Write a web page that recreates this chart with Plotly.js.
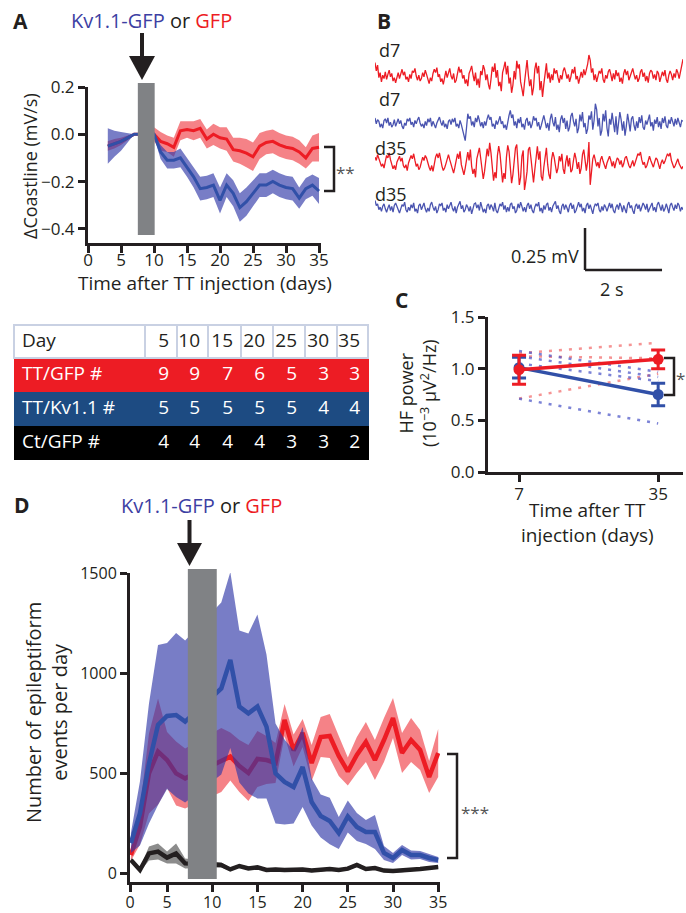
<!DOCTYPE html>
<html><head><meta charset="utf-8">
<script src="https://cdn.plot.ly/plotly-3.0.1.min.js"></script>
<style>body{margin:0;background:#fff}#chart{width:686px;height:913px}</style>
</head><body><div id="chart"></div>
<script>
const W = 686, H = 913;
const px = x => x / W, py = y => 1 - y / H;

// ---------- Panel A data ----------
const daysA = [3,4,5,6,7,10,11,12,13,14,15,16,17,18,19,20,21,22,23,24,25,26,27,28,29,30,31,32,33,34,35];
const gfpA = [-0.05,-0.04,-0.03,-0.015,0.0,0.0,-0.03,-0.04,-0.055,0.015,0.02,0.015,0.025,-0.02,0.0,-0.015,-0.02,-0.065,-0.07,-0.08,-0.095,-0.05,-0.035,-0.03,-0.045,-0.055,-0.06,-0.075,-0.1,-0.06,-0.055];
const gfpSemA = [0.02,0.02,0.015,0.01,0.0,0.03,0.04,0.035,0.04,0.04,0.035,0.04,0.04,0.04,0.045,0.045,0.05,0.05,0.055,0.06,0.06,0.055,0.05,0.05,0.05,0.05,0.05,0.05,0.045,0.055,0.06];
const kvA = [-0.05,-0.04,-0.03,-0.015,0.0,0.0,-0.075,-0.11,-0.11,-0.1,-0.14,-0.18,-0.23,-0.225,-0.215,-0.28,-0.215,-0.25,-0.31,-0.285,-0.25,-0.215,-0.215,-0.2,-0.215,-0.225,-0.23,-0.27,-0.23,-0.215,-0.24];
const kvSemA = [0.075,0.055,0.04,0.02,0.0,0.01,0.03,0.035,0.035,0.04,0.04,0.045,0.05,0.05,0.05,0.055,0.05,0.055,0.06,0.06,0.055,0.05,0.05,0.05,0.05,0.05,0.05,0.045,0.045,0.045,0.055];
const treatA = [7.55, 10.1];

// ---------- Panel B data (EEG samples, µV) ----------
const traceDuration = 8; // s
const eegGfpD7 = [80,30,65,-10,20,-35,5,-15,25,-20,10,35,-5,15,-30,-10,-40,0,20,-15,
 15,40,5,25,-20,-5,-35,10,-15,30,20,45,0,-25,5,-30,-15,20,-5,35,
 10,-25,-45,-10,-30,15,40,20,50,-5,10,-35,-15,-50,5,30,-10,25,45,0,
 -20,15,-40,-25,10,55,20,40,-15,5,-45,-20,-60,15,35,60,10,-30,20,-55,
 -15,-70,30,5,65,40,-25,10,-50,-80,-20,55,25,75,-10,35,-60,-35,-90,20,
 50,85,10,60,-45,-10,-100,-55,30,-20,90,45,70,-35,-75,-120,-40,25,95,5,
 -60,-20,-115,-70,40,80,15,60,-85,-30,-125,-50,35,75,-15,20,-40,10,-25,45,
 15,35,-10,-40,5,-20,30,50,20,-15,10,-35,-5,40,15,55,-20,0,-45,-15,
 25,-10,40,5,30,70,125,95,20,45,-25,10,-35,-5,30,15,45,-20,-40,5,
 -15,25,40,10,-30,15,-20,35,0,20,-35,-10,-45,15,40,5,30,-25,-5,20,
 45,10,-20,5,-35,-15,25,40,-5,20,-30,0,-40,15,35,25,-15,10,-25,30,
 15,-35,-10,25,0,35,-20,-40,5,30,10,-25,15,-10,40,20,-15,30,65,100];
const eegKvD7 = [30,-5,20,10,-25,-5,-30,15,25,0,30,-15,5,-25,-10,20,-20,10,25,-5,
 15,-20,-35,0,-15,25,10,30,-10,5,-25,15,-5,20,35,0,-20,-5,-30,10,
 -15,25,5,30,-20,10,-10,-30,0,20,35,5,-15,15,-25,-5,-35,10,20,-10,
 25,5,30,-20,-5,-30,15,-10,-45,-90,-105,-30,55,25,40,-15,10,-25,30,5,
 45,15,-20,5,-30,10,-15,25,50,20,35,-20,-5,-35,15,-10,25,40,-5,10,
 -30,-10,-40,20,45,75,30,50,-15,10,-30,25,0,35,-25,-5,-40,15,30,-15,
 10,-30,-5,40,15,30,-20,5,-40,-15,20,45,10,-30,0,-45,25,55,5,-20,
 35,-40,-10,-55,20,45,0,30,-35,15,-50,-25,40,60,10,-20,25,-60,-30,50,
 10,65,-25,0,-65,-35,45,20,70,-40,15,115,80,-20,30,-75,-45,55,10,75,
 -30,-80,25,-10,60,15,-55,40,-70,0,65,20,-45,10,-75,-20,55,5,-50,25,
 40,-15,-45,10,-30,35,0,45,-25,-40,15,-10,30,50,-20,5,-45,20,-5,35,
 -25,10,-35,30,0,40,-15,-30,20,-5,35,10,-20,25,-10,30,5,-25,15,10];
const eegGfpD35 = [35,15,50,25,5,-20,-5,-30,10,45,30,60,20,-10,-35,-15,-40,5,25,40,
 10,30,-15,-30,-10,-45,0,20,45,25,55,15,-20,-5,-40,-25,10,35,15,45,
 30,-5,-25,-45,-15,-50,10,35,55,30,60,5,-20,-45,-30,-5,25,50,20,-10,
 -40,-60,-25,20,55,25,70,-10,-45,-70,-30,35,65,15,80,-20,-65,-35,-85,25,
 60,90,30,-40,-95,-50,10,85,40,120,60,-30,-105,-55,-90,45,100,55,-20,-115,
 -60,-95,35,105,70,-10,-120,-70,20,90,110,-40,-130,-85,40,75,-160,-110,-50,80,
 95,30,-60,-115,-40,55,100,20,70,-80,-105,-25,45,90,-10,-70,-95,20,65,35,
 -15,-60,-30,40,10,55,-35,-65,5,45,-20,30,-55,-40,15,60,25,-35,5,-65,
 -30,50,80,20,-45,10,125,-130,-55,25,50,15,-20,5,-30,20,40,10,-15,-35,
 0,25,40,15,-20,10,-30,5,30,20,-10,15,-25,-5,30,40,10,-15,-30,0,
 15,-20,10,35,55,45,65,20,-10,5,-30,-15,20,40,15,-10,-25,5,30,20,
 -15,-35,0,20,-5,10,35,55,40,60,15,-10,-30,-15,10,25,-5,-20,-35,-20];
const eegKvD35 = [45,15,25,-10,5,-20,10,25,-5,-25,0,20,-15,10,-25,15,30,5,-15,-30,
 -5,20,10,35,-10,-25,5,-15,20,0,30,-20,-5,-30,15,25,-10,10,30,-5,
 -25,0,-20,20,35,5,-15,10,-30,-10,25,15,30,-15,0,-25,20,-5,15,35,
 0,-20,10,-30,5,25,40,-5,15,-25,-10,20,5,-20,10,-35,-10,25,30,0,
 20,-15,35,10,-25,-5,-30,15,25,-10,20,5,-20,30,-15,-30,0,25,10,35,
 -10,15,-25,5,-20,20,30,-5,10,-30,-15,25,0,35,10,-20,5,-25,15,30,
 -5,20,-15,-30,5,25,10,35,-20,0,-30,15,-10,20,30,-15,5,-25,10,25,
 40,-5,15,-20,-35,10,25,-10,20,0,-25,15,30,-5,20,-30,-15,10,35,5,
 25,-20,0,-30,15,30,-5,20,-15,-35,5,25,15,30,-10,-25,10,-15,20,5,
 -20,15,30,0,25,-15,-30,5,20,-10,30,10,-25,15,-5,-30,20,35,0,15,
 -15,-35,10,25,-5,20,-20,5,30,15,-10,25,-25,-5,10,30,-15,5,-25,20,
 35,10,-15,20,-20,-5,25,0,-30,15,30,5,-15,20,-5,30,15,-20,5,-10];
const traceLabels = ['d7','d7','d35','d35'];
const scaleBarUV = 250, scaleBarS = 2;

// ---------- Table data ----------
const tableDays = ['5','10','15','20','25','30','35'];
const tableGroups = ['TT/GFP #','TT/Kv1.1 #','Ct/GFP #'];
const nGfp = [9,9,7,6,5,3,3];
const nKv = [5,5,5,5,5,4,4];
const nCt = [4,4,4,4,3,3,2];

// ---------- Panel C data ----------
const daysC = [7, 35];
const gfpC = [0.99, 1.09], gfpErrC = [0.14, 0.09];
const kvC = [1.01, 0.75], kvErrC = [0.10, 0.11];
const gfpIndiv = [[1.15,1.25],[1.12,1.10],[0.71,0.95]];
const kvIndiv = [[1.17,0.97],[1.12,0.92],[1.05,0.88],[0.71,0.47]];

// ---------- Panel D data ----------
const daysD = [1,2,3,4,5,6,7,11,12,13,14,15,16,17,18,19,20,21,22,23,24,25,26,27,28,29,30,31,32,33,34,35];
const gfpD = [90,232,498,607,565,498,473,565,582,535,500,570,565,550,765,613,700,550,680,685,585,508,590,655,565,665,775,600,665,615,480,600];
const gfpSemD = [30,90,200,265,140,160,150,160,120,130,140,140,120,100,80,80,70,90,100,110,100,70,90,100,100,110,100,100,110,100,80,120];
const kvD = [150,298,548,740,785,790,757,923,1065,832,798,832,732,498,455,430,530,355,285,260,200,283,230,205,205,100,75,115,90,90,75,65];
const kvSemD = [50,160,300,400,365,410,405,430,440,380,400,460,360,250,212,183,200,117,108,116,80,80,70,60,85,35,25,25,22,20,20,15];
const ctD = [65,15,98,107,77,98,48,40,18,35,23,28,15,18,15,15,18,12,15,20,15,22,40,20,25,12,10,12,15,20,25,30];
const ctSemD = [10,10,35,40,30,50,25,12,8,8,8,8,8,8,8,8,8,8,8,8,8,8,10,8,8,8,8,8,8,8,8,8];
const treatD = [7.3, 10.5];

// ---------- styles ----------
const RED = '#ED1C24', BLUE = '#3150A8', TXT = '#231F20';
const RED_BAND = 'rgba(237,28,36,0.55)', BLUE_BAND = 'rgba(48,56,168,0.65)';
const FONT = 'Open Sans, Noto Sans, sans-serif';

function band(x, m, s, xa, ya, color) {
  const up = m.map((v, i) => v + s[i]);
  const lo = m.map((v, i) => v - s[i]);
  return {x: x.concat(x.slice().reverse()), y: up.concat(lo.reverse()), xaxis: xa, yaxis: ya,
    type: 'scatter', mode: 'lines', fill: 'toself', fillcolor: color, line: {width: 0}, hoverinfo: 'skip'};
}
function line(x, y, xa, ya, color, w) {
  return {x, y, xaxis: xa, yaxis: ya, type: 'scatter', mode: 'lines', line: {color, width: w}};
}

const traces = [];
// A
traces.push(band(daysA, gfpA, gfpSemA, 'x', 'y', RED_BAND));
traces.push(line(daysA, gfpA, 'x', 'y', RED, 3));
traces.push(band(daysA, kvA, kvSemA, 'x', 'y', BLUE_BAND));
traces.push(line(daysA, kvA, 'x', 'y', BLUE, 3));

// B
const eeg = [eegGfpD7, eegKvD7, eegGfpD35, eegKvD35];
const eegCol = [RED, '#4A54B0', RED, '#4A54B0'];
eeg.forEach((v, i) => {
  traces.push({y: v, x0: 0, dx: traceDuration / (v.length - 1), xaxis: 'x2', yaxis: 'y' + (i + 2),
    type: 'scatter', mode: 'lines', line: {color: eegCol[i], width: 1.3}});
});

// Table
const rowCols = [RED, '#1D4B82', '#000000'];
traces.push({type: 'table',
  domain: {x: [px(14), px(368)], y: [py(460), py(325)]},
  columnwidth: [131, 32, 31, 33, 32, 32, 32, 31],
  header: {values: ['Day'].concat(tableDays), align: ['left'].concat(tableDays.map(() => 'right')),
    height: 33, fill: {color: '#ffffff'}, line: {color: '#C9D1E3', width: 2},
    font: {family: FONT, size: 19, color: TXT}},
  cells: {values: [tableGroups].concat(tableDays.map((d, i) => [nGfp[i], nKv[i], nCt[i]])),
    align: ['left'].concat(tableDays.map(() => 'right')),
    height: 34, fill: {color: tableDays.concat(['']).map(() => rowCols)},
    line: {color: tableDays.concat(['']).map(() => rowCols), width: 1},
    font: {family: FONT, size: 19, color: '#ffffff'}}
});

// C
gfpIndiv.forEach(v => traces.push({x: daysC, y: v, xaxis: 'x3', yaxis: 'y7', type: 'scatter', mode: 'lines',
  line: {color: 'rgba(240,90,90,0.65)', width: 2.5, dash: '3px,7px'}}));
kvIndiv.forEach(v => traces.push({x: daysC, y: v, xaxis: 'x3', yaxis: 'y7', type: 'scatter', mode: 'lines',
  line: {color: 'rgba(80,90,200,0.75)', width: 2.5, dash: '3px,7px'}}));
traces.push({x: daysC, y: kvC, xaxis: 'x3', yaxis: 'y7', type: 'scatter', mode: 'lines+markers',
  line: {color: BLUE, width: 3.5}, marker: {color: BLUE, size: 11},
  error_y: {type: 'data', array: kvErrC, color: BLUE, thickness: 3, width: 7}});
traces.push({x: daysC, y: gfpC, xaxis: 'x3', yaxis: 'y7', type: 'scatter', mode: 'lines+markers',
  line: {color: RED, width: 3.5}, marker: {color: RED, size: 11},
  error_y: {type: 'data', array: gfpErrC, color: RED, thickness: 3, width: 7}});

// D
traces.push(band(daysD, gfpD, gfpSemD, 'x4', 'y8', RED_BAND));
traces.push(line(daysD, gfpD, 'x4', 'y8', RED, 4.5));
traces.push(band(daysD, kvD, kvSemD, 'x4', 'y8', BLUE_BAND));
traces.push(line(daysD, kvD, 'x4', 'y8', BLUE, 4.5));
traces.push(band(daysD, ctD, ctSemD, 'x4', 'y8', 'rgba(0,0,0,0.45)'));
traces.push(line(daysD, ctD, 'x4', 'y8', TXT, 4.5));

// ---------- layout ----------
const axBase = {showline: true, linecolor: TXT, linewidth: 3, ticks: 'outside', tickcolor: TXT,
  tickwidth: 3, ticklen: 7, showgrid: false, zeroline: false, tickfont: {family: FONT, size: 17, color: TXT}, fixedrange: true};
const hidden = {visible: false, showgrid: false, zeroline: false, fixedrange: true};
const k = 42 / scaleBarUV; // px per µV
const traceCenters = [76, 123, 163, 208];

const layout = {
  width: W, height: H, margin: {l: 0, r: 0, t: 0, b: 0}, showlegend: false,
  paper_bgcolor: '#fff', plot_bgcolor: 'rgba(0,0,0,0)', font: {family: FONT, color: TXT},
  xaxis: Object.assign({}, axBase, {domain: [px(88), px(321)], range: [0, 35.3], tickvals: [0,5,10,15,20,25,30,35], anchor: 'y', ticklabelstandoff: -7}),
  yaxis: Object.assign({}, axBase, {domain: [py(243), py(87)], range: [-0.46, 0.2], tickvals: [-0.4,-0.2,0,0.2], tickformat: '.1f', anchor: 'x'}),
  xaxis2: Object.assign({}, hidden, {domain: [px(375), px(683)], range: [0, traceDuration], anchor: 'y2'}),
  yaxis6: Object.assign({}, hidden, {domain: [py(275), py(225)], range: [-5 / k, 45 / k], anchor: 'x2'}),
  xaxis3: Object.assign({}, axBase, {domain: [px(488), px(683)], range: [0.75, 40], tickvals: daysC, anchor: 'y7', ticklabelstandoff: -2}),
  yaxis7: Object.assign({}, axBase, {domain: [py(472), py(317)], range: [0, 1.5], tickvals: [0, 0.5, 1, 1.5], tickformat: '.1f', anchor: 'x3'}),
  xaxis4: Object.assign({}, axBase, {domain: [px(130), px(440)], range: [0.9, 35.2], tickvals: [0.9,5,10,15,20,25,30,35], ticktext: ['0','5','10','15','20','25','30','35'], anchor: 'y8', ticklabelstandoff: -3, tickfont: {family: FONT, size: 16, color: TXT}}),
  yaxis8: Object.assign({}, axBase, {domain: [py(882), py(573)], range: [-45, 1500], tickvals: [0, 500, 1000, 1500], anchor: 'x4', tickfont: {family: FONT, size: 16, color: TXT}}),
  shapes: [], annotations: []
};
traceCenters.forEach((c, i) => {
  layout['yaxis' + (i + 2)] = Object.assign({}, hidden, {domain: [py(c + 32), py(c - 32)], range: [-32 / k, 32 / k], anchor: 'x2'});
});

const S = layout.shapes, A = layout.annotations;
// treatment bars
S.push({type: 'rect', xref: 'x', yref: 'paper', x0: treatA[0], x1: treatA[1], y0: py(235), y1: py(83), fillcolor: '#808285', line: {width: 0}, layer: 'above'});
S.push({type: 'rect', xref: 'x4', yref: 'paper', x0: treatD[0], x1: treatD[1], y0: py(879), y1: py(569), fillcolor: '#808285', line: {width: 0}, layer: 'above'});
// arrows
function arrow(cx, top, headTop, tip, half) {
  S.push({type: 'line', xref: 'paper', yref: 'paper', x0: px(cx), x1: px(cx), y0: py(top), y1: py(headTop + 2), line: {color: TXT, width: 4}});
  S.push({type: 'path', xref: 'paper', yref: 'paper', path: `M ${px(cx - half)} ${py(headTop)} L ${px(cx + half)} ${py(headTop)} L ${px(cx)} ${py(tip)} Z`, fillcolor: TXT, line: {width: 0}});
}
arrow(142, 33, 56, 80, 13);
arrow(189.5, 520, 543, 566, 12.5);
// significance brackets
function bracket(x, y0, y1, arm) {
  S.push({type: 'path', xref: 'paper', yref: 'paper', path: `M ${px(x - arm)} ${py(y0)} L ${px(x)} ${py(y0)} L ${px(x)} ${py(y1)} L ${px(x - arm)} ${py(y1)}`, line: {color: TXT, width: 2.5}});
}
bracket(334, 147, 191, 10);
bracket(674, 358, 395, 10);
bracket(457, 754, 858, 10);
// scale bar
const sbX = 5.455;
S.push({type: 'line', xref: 'x2', yref: 'y6', x0: sbX, x1: sbX, y0: 0, y1: scaleBarUV, line: {color: TXT, width: 2.5}});
S.push({type: 'line', xref: 'x2', yref: 'y6', x0: sbX, x1: sbX + scaleBarS, y0: 0, y1: 0, line: {color: TXT, width: 2.5}});

function txt(text, x, y, size, opts) {
  A.push(Object.assign({text, xref: 'paper', yref: 'paper', x: px(x), y: py(y), showarrow: false,
    xanchor: 'center', yanchor: 'middle', font: {family: FONT, size, color: TXT}}, opts || {}));
}
const titleHtml = '<span style="color:#3D3FA3">Kv1.1-GFP</span> or <span style="color:#ED1C24">GFP</span>';
// panel letters
['A','B','C','D'].forEach((L, i) => {
  const pos = [[20, 21], [384, 21], [401, 300], [22, 505]][i];
  txt('<b>' + L + '</b>', pos[0], pos[1], 21);
});
// A texts
txt(titleHtml, 151, 20, 20);
txt('ΔCoastline (mV/s)', 30, 166, 18, {textangle: -90});
txt('Time after TT injection (days)', 205, 283, 19);
txt('**', 345, 173, 17, {font: {family: FONT, size: 17, color: '#555'}});
// B texts
const labelY = [50, 99, 148, 194];
traceLabels.forEach((t, i) => txt(t, i < 2 ? 377 : 373, labelY[i], 18, {xanchor: 'left'}));
txt('0.25 mV', 581, 256, 18, {xanchor: 'right'});
txt('2 s', 612, 289, 18);
// C texts
txt('HF power<br>(10<sup>−3</sup> µV<sup>2</sup>/Hz)', 418, 393, 18, {textangle: -90});
txt('Time after TT<br>injection (days)', 587, 522, 19);
txt('*', 680, 378, 17, {font: {family: FONT, size: 17, color: '#555'}});
// D texts
txt(titleHtml, 201, 505, 20);
txt('Number of epileptiform<br>events per day', 46, 713, 20, {textangle: -90});
txt('***', 475, 812, 17, {font: {family: FONT, size: 17, color: '#555'}});

Plotly.newPlot('chart', traces, layout, {displayModeBar: false, staticPlot: true});
</script></body></html>
